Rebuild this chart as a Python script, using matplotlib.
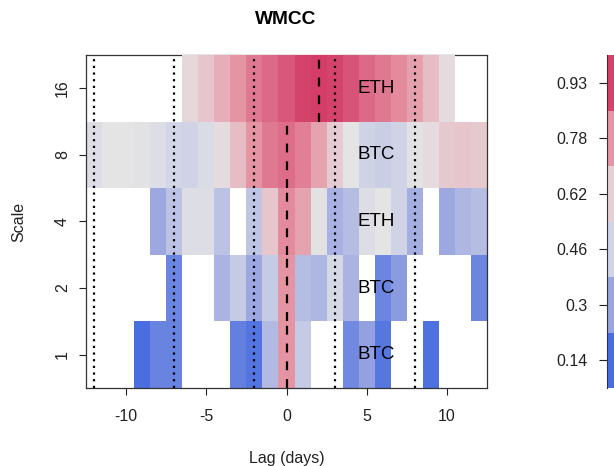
import matplotlib.pyplot as plt
import numpy as np
from matplotlib.colors import LinearSegmentedColormap, ListedColormap, Normalize

plt.rcParams['font.family'] = ['Liberation Sans', 'DejaVu Sans']

nan = np.nan

# lags (days) and wavelet scales
lags = np.arange(-12, 13)
scales = ['1', '2', '4', '8', '16']

# WMCC values per scale, lag -12 .. 12 (nan = not shown)
wmcc_s1 = [nan, nan, nan, 0.14, 0.20, 0.20, nan, nan, nan, 0.19, 0.16, 0.37, 0.78,
           0.43, nan, nan, 0.22, 0.29, 0.17, nan, nan, 0.15, nan, nan, nan]
wmcc_s2 = [nan, nan, nan, nan, nan, 0.21, nan, nan, 0.35, 0.43, 0.31, 0.43, 0.78,
           0.38, 0.36, 0.48, 0.35, nan, 0.21, 0.27, nan, nan, nan, nan, 0.21]
wmcc_s4 = [nan, nan, nan, nan, 0.31, 0.40, 0.51, 0.51, 0.40, nan, 0.41, 0.65, 0.80,
           0.74, 0.53, 0.34, 0.38, 0.51, 0.54, 0.46, 0.33, nan, 0.31, 0.36, 0.38]
wmcc_s8 = [0.51, 0.54, 0.54, 0.53, 0.51, 0.47, 0.46, 0.50, 0.58, 0.67, 0.78, 0.83, 0.85,
           0.82, 0.74, 0.63, 0.54, 0.46, 0.44, 0.46, 0.53, 0.58, 0.64, 0.65, 0.64]
wmcc_s16 = [nan, nan, nan, nan, nan, nan, 0.59, 0.65, 0.71, 0.78, 0.83, 0.86, 0.89,
            0.93, 0.95, 0.93, 0.90, 0.86, 0.83, 0.80, 0.75, 0.67, 0.58, nan, nan]

# variable with max influence at each scale, and lag of the peak
leaders = ['BTC', 'BTC', 'ETH', 'BTC', 'ETH']
peak_lags = [0, 0, 0, 0, 2]
# dotted reference lags
ref_lags = [-12, -7, -2, 3, 8]

# legend bins
legend_labels = ['0.14', '0.3', '0.46', '0.62', '0.78', '0.93']
legend_colors = ['#4a6ee0', '#9aa5e0', '#d1d4e6', '#e6d0d5', '#e595a5', '#d4436c']

# colour ramp blue -> grey -> red
ramp = [(0.06, '#3f66e0'), (0.14, '#4a6ee0'), (0.30, '#9aa5e0'), (0.46, '#d1d4e6'),
        (0.54, '#e4e4e4'), (0.62, '#e6d0d5'), (0.78, '#e595a5'), (0.93, '#d4436c'),
        (1.00, '#d2305f')]
vmin, vmax = 0.06, 1.0
cmap = LinearSegmentedColormap.from_list(
    'wmcc', [((v - vmin) / (vmax - vmin), c) for v, c in ramp])

z = np.ma.masked_invalid(np.array([wmcc_s1, wmcc_s2, wmcc_s4, wmcc_s8, wmcc_s16]))

fig = plt.figure(figsize=(6.14, 4.66), dpi=100)
ax = fig.add_axes([86 / 614, 1 - 388 / 466, 401 / 614, 333 / 466])

x_edges = np.append(lags - 0.5, lags[-1] + 0.5)
y_edges = np.arange(len(scales) + 1) - 0.5
ax.pcolormesh(x_edges, y_edges, z, cmap=cmap, norm=Normalize(vmin, vmax), zorder=2)
ax.spines['top'].set_zorder(1.5)

for lag in ref_lags:
    ax.axvline(lag, color='black', lw=1.6, linestyle=(0, (1, 2)), zorder=3)
for i, lag in enumerate(peak_lags):
    ax.plot([lag, lag], [i - 0.5, i + 0.5], color='black', lw=1.6,
            linestyle=(0, (4, 4)), zorder=3)
for i, name in enumerate(leaders):
    ax.text(5.6, i, name, ha='center', va='center', fontsize=13.5, zorder=4)

ax.set_xlim(-12.5, 12.5)
ax.set_ylim(-0.5, len(scales) - 0.5)
ax.set_xticks([-10, -5, 0, 5, 10])
ax.set_xticklabels(['-10', '-5', '0', '5', '10'])
ax.set_yticks(range(len(scales)))
ax.set_yticklabels(scales, rotation=90, va='center')
ax.tick_params(axis='x', length=5, width=0.8, pad=10, labelsize=11.5, colors='#222222')
ax.tick_params(axis='y', length=5, width=0.8, pad=6.5, labelsize=11.5, colors='#222222')
ax.set_xlabel('Lag (days)', fontsize=11.5, labelpad=19.5, color='#222222')
ax.set_ylabel('Scale', fontsize=11.5, labelpad=21, color='#222222')
for s in ax.spines.values():
    s.set_linewidth(0.9)
    s.set_color('#333333')

fig.text(286 / 614, 1 - 19 / 466, 'WMCC', ha='center', va='center',
         fontsize=13.8, fontweight='bold')

# legend colour bar (cut at right edge like the original)
cax = fig.add_axes([607 / 614, 1 - 388 / 466, 20 / 614, 333 / 466])
nb = len(legend_colors)
cax.pcolormesh([0, 1], np.arange(nb + 1), np.arange(nb).reshape(nb, 1),
               cmap=ListedColormap(legend_colors), vmin=-0.5, vmax=nb - 0.5)
cax.set_xlim(0, 1)
cax.set_ylim(0, nb)
cax.set_xticks([])
cax.set_yticks(np.arange(nb) + 0.5)
cax.set_yticklabels(legend_labels)
cax.tick_params(axis='y', length=6, width=0.8, pad=8, labelsize=11.5, colors='#222222')
for side in ['top', 'right', 'bottom']:
    cax.spines[side].set_visible(False)
cax.spines['left'].set_color('#333333')

fig.savefig('out.png', dpi=100)
plt.close()
